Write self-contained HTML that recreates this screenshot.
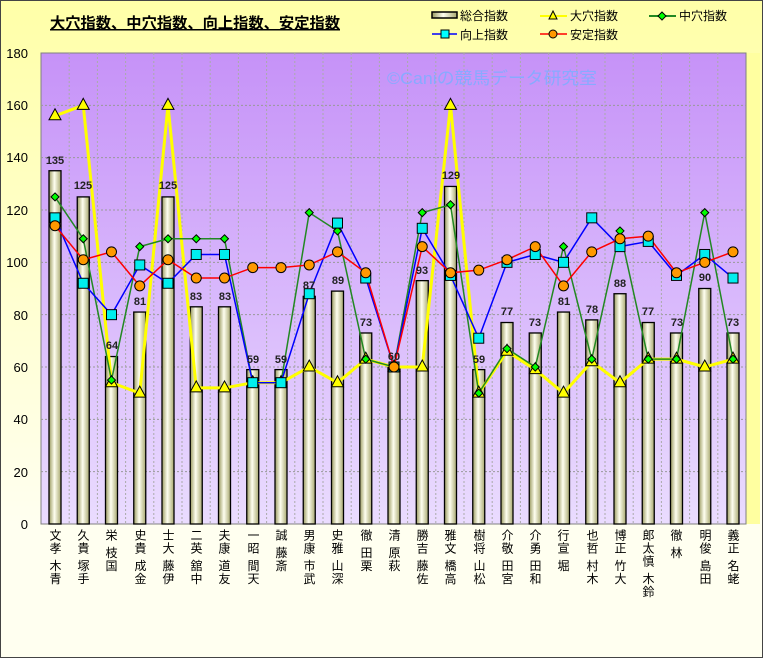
<!DOCTYPE html>
<html><head><meta charset="utf-8"><style>
body{margin:0;width:763px;height:658px;overflow:hidden;font-family:"Liberation Sans","Noto Sans CJK JP",sans-serif}
#w{position:absolute;left:0;top:0;width:761px;height:656px;border:1px solid #444;background:linear-gradient(#ffffa8,#fffff0 80%)}
.lb{position:absolute;top:529px;writing-mode:vertical-rl;font-size:12px;line-height:12px;width:12px;color:#000;letter-spacing:1px}
</style></head><body><div id="w"></div>
<svg id="s" width="763" height="658" style="position:absolute;left:0;top:0" font-family="Liberation Sans, Noto Sans CJK JP, sans-serif">
<defs>
<linearGradient id="pg" x1="0" y1="0" x2="0" y2="1"><stop offset="0" stop-color="#c692f8"/><stop offset="1" stop-color="#eadcff"/></linearGradient>
<linearGradient id="bg" x1="0" y1="0" x2="1" y2="0"><stop offset="0" stop-color="#9a9a60"/><stop offset="0.45" stop-color="#fffff0"/><stop offset="1" stop-color="#a8a870"/></linearGradient>
</defs>
<rect x="746" y="53" width="14" height="471" fill="#ffffa0"/>
<rect x="41" y="53" width="705" height="471" fill="url(#pg)" stroke="#808080"/>
<g id="grid"></g><g id="bars"></g><g id="lines"></g>
<text x="387" y="84" font-size="17" fill="#88aaff" textLength="210" lengthAdjust="spacingAndGlyphs">©Caniの競馬データ研究室</text>
<g font-size="13" text-anchor="end" fill="#000">
<text x="28" y="58">180</text><text x="28" y="110">160</text><text x="28" y="162">140</text><text x="28" y="215">120</text><text x="28" y="267">100</text><text x="28" y="320">80</text><text x="28" y="372">60</text><text x="28" y="424">40</text><text x="28" y="477">20</text><text x="28" y="529">0</text>
</g>
<text x="50" y="28" font-size="15" font-weight="bold" fill="#000" text-decoration="underline" textLength="290" lengthAdjust="spacingAndGlyphs">大穴指数、中穴指数、向上指数、安定指数</text>
<g font-size="12" fill="#000">
<rect x="432" y="12" width="25" height="6" fill="url(#bg)" stroke="#000" stroke-width="1.5"/><text x="460" y="20" textLength="48" lengthAdjust="spacingAndGlyphs">総合指数</text>
<line x1="540" y1="16" x2="567" y2="16" stroke="#ff0" stroke-width="2"/><path d="M553 11 L557 19 L549 19Z" fill="#ff0" stroke="#000"/><text x="570" y="20" textLength="48" lengthAdjust="spacingAndGlyphs">大穴指数</text>
<line x1="649" y1="16" x2="676" y2="16" stroke="#228822" stroke-width="2"/><path d="M662 12 L666 16 L662 20 L658 16Z" fill="#0f0" stroke="#000"/><text x="679" y="20" textLength="48" lengthAdjust="spacingAndGlyphs">中穴指数</text>
<line x1="432" y1="34" x2="457" y2="34" stroke="#00f" stroke-width="1.5"/><rect x="441" y="30" width="8" height="8" fill="#0ff" stroke="#000"/><text x="460" y="39" textLength="48" lengthAdjust="spacingAndGlyphs">向上指数</text>
<line x1="540" y1="34" x2="567" y2="34" stroke="#f00" stroke-width="1.5"/><circle cx="553" cy="34" r="4" fill="#f90" stroke="#000"/><text x="570" y="39" textLength="48" lengthAdjust="spacingAndGlyphs">安定指数</text>
</g>
<g font-size="11" font-weight="bold" fill="#222" text-anchor="middle">
<text x="55" y="164">135</text><text x="83" y="189">125</text><text x="112" y="349">64</text><text x="140" y="305">81</text><text x="168" y="189">125</text><text x="196" y="300">83</text><text x="225" y="300">83</text><text x="253" y="363">59</text><text x="281" y="363">59</text><text x="309" y="289">87</text><text x="338" y="284">89</text><text x="366" y="326">73</text><text x="394" y="360">60</text><text x="422" y="274">93</text><text x="451" y="179">129</text><text x="479" y="363">59</text><text x="507" y="315">77</text><text x="535" y="326">73</text><text x="564" y="305">81</text><text x="592" y="313">78</text><text x="620" y="287">88</text><text x="648" y="315">77</text><text x="677" y="326">73</text><text x="705" y="281">90</text><text x="733" y="326">73</text>
</g>
</svg>
<div class="lb" style="left:49px">文孝 木青</div>
<div class="lb" style="left:77px">久貴 塚手</div>
<div class="lb" style="left:105px">栄 枝国</div>
<div class="lb" style="left:134px">史貴 成金</div>
<div class="lb" style="left:162px">士大 藤伊</div>
<div class="lb" style="left:190px">二英 舘中</div>
<div class="lb" style="left:218px">夫康 道友</div>
<div class="lb" style="left:247px">一昭 間天</div>
<div class="lb" style="left:275px">誠 藤斎</div>
<div class="lb" style="left:303px">男康 市武</div>
<div class="lb" style="left:331px">史雅 山深</div>
<div class="lb" style="left:360px">徹 田栗</div>
<div class="lb" style="left:388px">清 原萩</div>
<div class="lb" style="left:416px">勝吉 藤佐</div>
<div class="lb" style="left:444px">雅文 橋高</div>
<div class="lb" style="left:473px">樹将 山松</div>
<div class="lb" style="left:501px">介敬 田宮</div>
<div class="lb" style="left:529px">介勇 田和</div>
<div class="lb" style="left:557px">行宣 堀</div>
<div class="lb" style="left:586px">也哲 村木</div>
<div class="lb" style="left:614px">博正 竹大</div>
<div class="lb" style="left:642px">郎太慎 木鈴</div>
<div class="lb" style="left:670px">徹 林</div>
<div class="lb" style="left:699px">明俊 島田</div>
<div class="lb" style="left:727px">義正 名蛯</div>
<script>
const NS="http://www.w3.org/2000/svg";
function el(p,t,a){const e=document.createElementNS(NS,t);for(const k in a)e.setAttribute(k,a[k]);document.getElementById(p).appendChild(e);return e;}
const X=i=>55+i*28.25, Y=v=>524-v*2.6167;
for(let v=20;v<180;v+=20)el("grid","line",{x1:41,x2:746,y1:Y(v),y2:Y(v),stroke:"#999","stroke-dasharray":"2,2"});
for(let i=1;i<25;i++){const x=41+i*28.2;el("grid","line",{x1:x,x2:x,y1:53,y2:524,stroke:"#aaa","stroke-dasharray":"2,2"});}
const tot=[135,125,64,81,125,83,83,59,59,87,89,73,60,93,129,59,77,73,81,78,88,77,73,90,73];
const big=[156,160,54,50,160,52,52,54,54,60,54,63,60,60,160,50,66,59,50,62,54,63,63,60,63];
const mid=[125,109,55,106,109,109,109,54,54,119,112,63,60,119,122,50,67,60,106,63,112,63,63,119,63];
const up=[117,92,80,99,92,103,103,54,54,88,115,94,60,113,95,71,100,103,100,117,106,108,95,103,94];
const st=[114,101,104,91,101,94,94,98,98,99,104,96,60,106,96,97,101,106,91,104,109,110,96,100,104];
tot.forEach((v,i)=>el("bars","rect",{x:X(i)-6,y:Y(v),width:12,height:524-Y(v),fill:"url(#bg)",stroke:"#000","stroke-width":1.3}));
function line(d,c,w){el("lines","polyline",{points:d.map((v,i)=>X(i)+","+Y(v)).join(" "),fill:"none",stroke:c,"stroke-width":w});}
line(big,"#ffff00",3);line(mid,"#228822",1.5);line(up,"#0000ff",1.5);line(st,"#ff0000",1.5);
big.forEach((v,i)=>el("lines","path",{d:`M${X(i)} ${Y(v)-7}L${X(i)+6} ${Y(v)+4}L${X(i)-6} ${Y(v)+4}Z`,fill:"#ff0",stroke:"#000"}));
mid.forEach((v,i)=>el("lines","path",{d:`M${X(i)} ${Y(v)-4}L${X(i)+4} ${Y(v)}L${X(i)} ${Y(v)+4}L${X(i)-4} ${Y(v)}Z`,fill:"#0f0",stroke:"#000"}));
up.forEach((v,i)=>el("lines","rect",{x:X(i)-5,y:Y(v)-5,width:10,height:10,fill:"#0ee",stroke:"#000"}));
st.forEach((v,i)=>el("lines","circle",{cx:X(i),cy:Y(v),r:5,fill:"#f90",stroke:"#000"}));
</script>
</body></html>
